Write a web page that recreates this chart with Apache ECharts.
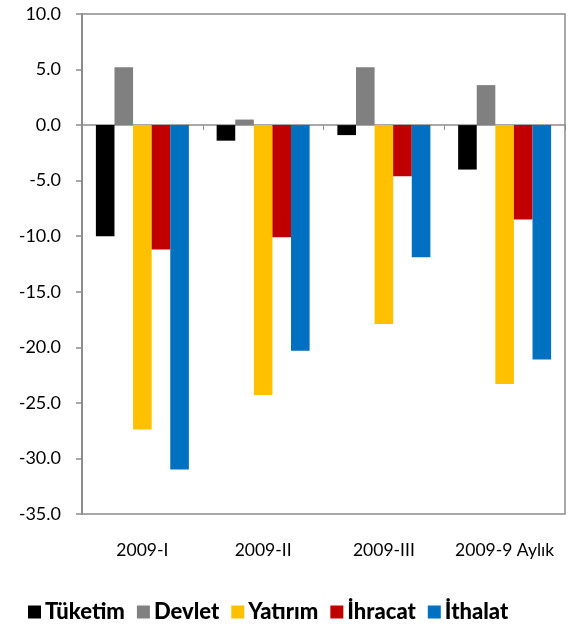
<!DOCTYPE html>
<html><head><meta charset="utf-8">
<script src="https://cdn.jsdelivr.net/npm/echarts@6/dist/echarts.min.js"></script>
<style>html,body{margin:0;padding:0;background:#fff}#c{width:579px;height:632px}</style>
</head><body><div id="c"></div>
<script>
const categories = ['2009-I', '2009-II', '2009-III', '2009-9 Aylık'];
const seriesNames = ['Tüketim', 'Devlet', 'Yatırım', 'İhracat', 'İthalat'];
const tuketim = [-10.0, -1.4, -0.9, -4.0];
const devlet = [5.2, 0.5, 5.2, 3.6];
const yatirim = [-27.4, -24.3, -17.9, -23.3];
const ihracat = [-11.2, -10.1, -4.6, -8.5];
const ithalat = [-31.0, -20.3, -11.9, -21.1];
const colors = ['#000000', '#808080', '#FFC000', '#C00000', '#0070C0'];
const yTicks = { min: -35, max: 10, interval: 5 };

const values = [tuketim, devlet, yatirim, ihracat, ithalat];
const font = 'Lato, "Open Sans", sans-serif';
const chart = echarts.init(document.getElementById('c'));
chart.setOption({
  animation: false,
  color: colors,
  grid: { left: 82, right: 14, top: 14, bottom: 118, show: true, borderColor: '#8c8c8c', borderWidth: 1.5 },
  legend: {
    bottom: 4, left: 23, itemWidth: 13, itemHeight: 13, itemGap: 12,
    icon: 'rect',
    textStyle: { fontFamily: font, fontWeight: 900, fontSize: 22, color: '#000', padding: [0, 0, 0, -1] },
    data: seriesNames
  },
  xAxis: [
    {
      type: 'category', data: categories,
      axisLine: { onZero: true, lineStyle: { color: '#8c8c8c', width: 1.5 } },
      axisTick: { show: true, length: 5, lineStyle: { color: '#8c8c8c' } },
      axisLabel: { show: false }
    },
    {
      type: 'category', data: categories, position: 'bottom',
      axisLine: { show: false, onZero: false }, axisTick: { show: false },
      axisLabel: { interval: 0, fontFamily: font, fontSize: 17.5, color: '#000', margin: 27 }
    }
  ],
  yAxis: {
    type: 'value', min: yTicks.min, max: yTicks.max, interval: yTicks.interval,
    axisLine: { show: true, lineStyle: { color: '#8c8c8c', width: 2 } },
    axisTick: { show: true, length: 6, lineStyle: { color: '#8c8c8c', width: 1.5 } },
    splitLine: { show: false },
    axisLabel: { fontFamily: font, fontSize: 18, color: '#000', margin: 21, formatter: v => v.toFixed(1) }
  },
  series: seriesNames.map((n, i) => ({
    name: n, type: 'bar', data: values[i], xAxisIndex: 0,
    barGap: '0%', barCategoryGap: '23%'
  }))
});
</script></body></html>
